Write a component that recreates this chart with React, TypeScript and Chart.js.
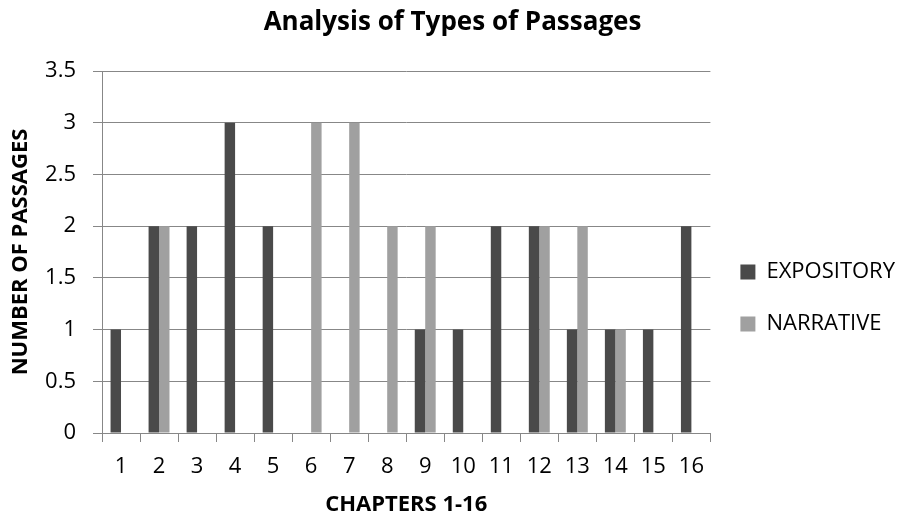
import React, { useEffect, useRef } from "react";
import { Chart, registerables } from "chart.js";

Chart.register(...registerables);

const chapters = ["1", "2", "3", "4", "5", "6", "7", "8", "9", "10", "11", "12", "13", "14", "15", "16"];
const expository = [1, 2, 2, 3, 2, 0, 0, 0, 1, 1, 2, 2, 1, 1, 1, 2];
const narrative = [0, 2, 0, 0, 0, 3, 3, 2, 2, 0, 0, 2, 2, 1, 0, 0];
const yMin = 0;
const yMax = 3.5;
const yStep = 0.5;

const FONT = "'Open Sans', 'Noto Sans', sans-serif";
const GRID = "#878787";

export default function App() {
  const ref = useRef<HTMLCanvasElement | null>(null);

  useEffect(() => {
    if (!ref.current) return;
    const chart = new Chart(ref.current, {
      type: "bar",
      data: {
        labels: chapters,
        datasets: [
          { label: "EXPOSITORY", data: expository, backgroundColor: "#4a4a4a", borderWidth: 0 },
          { label: "NARRATIVE", data: narrative, backgroundColor: "#a0a0a0", borderWidth: 0 },
        ],
      },
      options: {
        animation: false,
        responsive: true,
        maintainAspectRatio: false,
        layout: { padding: 0 },
        datasets: { bar: { categoryPercentage: 0.55, barPercentage: 1 } },
        plugins: {
          title: {
            display: true,
            text: "Analysis of Types of Passages",
            color: "#000",
            font: { family: FONT, size: 26, weight: "bold", lineHeight: 1.2 },
            padding: { top: 7, bottom: 32.8 },
          },
          legend: {
            position: "right",
            maxWidth: 195,
            title: { display: true, text: " ", padding: 0, font: { size: 10, lineHeight: 7.6 } },
            labels: {
              boxWidth: 15,
              boxHeight: 15,
              padding: 30,
              color: "#000",
              font: { family: FONT, size: 22 },
            },
          },
          tooltip: { enabled: false },
        },
        scales: {
          x: {
            offset: true,
            grid: { display: true, drawOnChartArea: false, drawTicks: true, tickLength: 9, color: GRID, offset: true },
            border: { display: true, color: GRID },
            ticks: { color: "#000", padding: 12, font: { family: FONT, size: 22 }, maxRotation: 0, autoSkip: false },
            title: {
              display: true,
              text: "CHAPTERS 1-16",
              color: "#000",
              font: { family: FONT, size: 22, weight: "bold" },
              padding: { top: 0, bottom: 2 },
            },
            afterFit: (s: any) => {
              s.height = 87;
            },
          },
          y: {
            min: yMin,
            max: yMax,
            ticks: {
              stepSize: yStep,
              color: "#000",
              padding: 17,
              font: { family: FONT, size: 22 },
              callback: (v: any) => String(Number(v)),
            },
            grid: { color: GRID, tickLength: 9, drawTicks: true },
            border: { display: true, color: GRID },
            title: {
              display: true,
              text: "NUMBER OF PASSAGES",
              color: "#000",
              font: { family: FONT, size: 22, weight: "bold" },
              padding: { top: 8, bottom: 0 },
            },
            afterFit: (s: any) => {
              s.width = 102;
            },
          },
        },
      },
    });
    return () => chart.destroy();
  }, []);

  return (
    <div style={{ position: "absolute", left: 0, top: 0, width: 905, height: 520, background: "#fff" }}>
      <canvas ref={ref} />
    </div>
  );
}
